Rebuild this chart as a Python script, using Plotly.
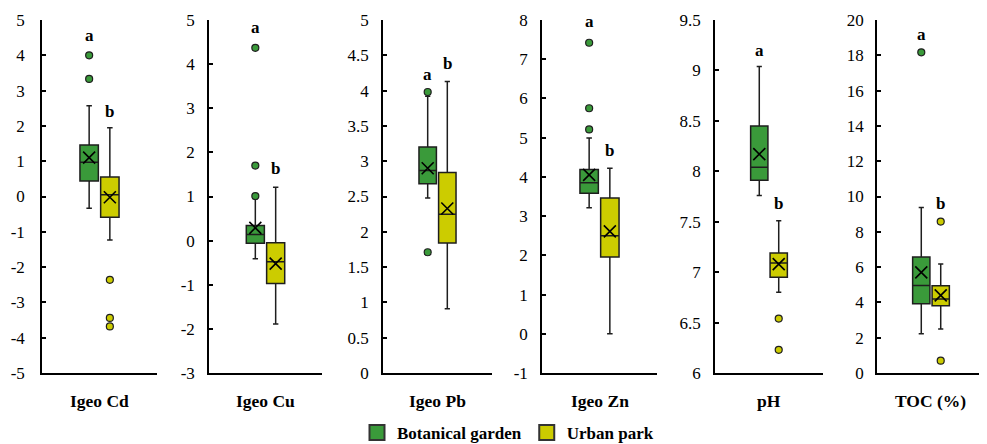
import plotly.graph_objects as go

# ---------------- data ----------------
panels = ["Igeo Cd", "Igeo Cu", "Igeo Pb", "Igeo Zn", "pH", "TOC (%)"]
groups = ["Botanical garden", "Urban park"]

bg_lower = [-0.33, -0.41, 2.48, 3.21, 7.76, 2.23]
bg_q1 = [0.44, -0.06, 2.68, 3.58, 7.91, 3.92]
bg_median = [0.97, 0.14, 2.87, 3.85, 8.04, 4.96]
bg_q3 = [1.46, 0.34, 3.20, 4.19, 8.45, 6.57]
bg_upper = [2.57, 0.95, 3.92, 4.99, 9.04, 9.38]
bg_mean = [1.10, 0.29, 2.90, 4.05, 8.17, 5.70]
bg_outliers = [[4.0, 3.33], [4.37, 1.70, 1.01], [3.98, 1.71], [7.42, 5.75, 5.21], [], [18.17]]

up_lower = [-1.23, -1.89, 0.91, 0.0, 6.80, 2.49]
up_q1 = [-0.59, -0.97, 1.84, 1.96, 6.95, 3.81]
up_median = [0.05, -0.48, 2.25, 2.50, 7.09, 4.19]
up_q3 = [0.55, -0.05, 2.84, 3.46, 7.19, 4.94]
up_upper = [1.95, 1.21, 4.13, 4.22, 7.51, 6.17]
up_mean = [-0.02, -0.52, 2.33, 2.61, 7.08, 4.40]
up_outliers = [[-2.36, -3.44, -3.68], [], [], [], [6.54, 6.23], [8.58, 0.70]]

bg_letters = ["a", "a", "a", "a", "a", "a"]
up_letters = ["b", "b", "b", "b", "b", "b"]
bg_letter_y = [4.55, 4.83, 4.23, 7.95, 9.2, 19.2]
up_letter_y = [2.42, 1.63, 4.38, 4.67, 7.68, 9.6]

y_tickvals = [
    [-5, -4, -3, -2, -1, 0, 1, 2, 3, 4, 5],
    [-3, -2, -1, 0, 1, 2, 3, 4, 5],
    [0, 0.5, 1, 1.5, 2, 2.5, 3, 3.5, 4, 4.5, 5],
    [-1, 0, 1, 2, 3, 4, 5, 6, 7, 8],
    [6, 6.5, 7, 7.5, 8, 8.5, 9, 9.5],
    [0, 2, 4, 6, 8, 10, 12, 14, 16, 18, 20],
]
y_ticktext = [
    ["-5", "-4", "-3", "-2", "-1", "0", "1", "2", "3", "4", "5"],
    ["-3", "-2", "-1", "0", "1", "2", "3", "4", "5"],
    ["0", "0.5", "1", "1.5", "2", "2.5", "3", "3.5", "4", "4.5", "5"],
    ["-1", "0", "1", "2", "3", "4", "5", "6", "7", "8"],
    ["6", "6.5", "7", "7.5", "8", "8.5", "9", "9.5"],
    ["0", "2", "4", "6", "8", "10", "12", "14", "16", "18", "20"],
]

# ---------------- style ----------------
OFF = 8                      # page body margin in the browser
W, H = 987 - OFF, 444 - OFF  # figure size so that it fills the window
GREEN = "#3a9a3a"
YELLOW = "#cccc00"
EDGE = "#1e1e1e"
FONT = "Liberation Serif"
pos = [0.41, 0.59]
box_w = 0.16
# positions measured in window pixels
dom_px = [(42, 157), (209, 322), (383, 492), (542, 657), (715, 823), (877, 985)]
standoffs = [12, 9, 9, 9, 9, 8]
y_top_px, y_bot_px = 20, 373
xlabel_px, legend_px = 401, 433


def px_x(p):
    return (p - OFF) / W


def px_y(p):
    return (H - (p - OFF)) / H


fig = go.Figure()
layout = dict(
    template="none",
    width=W, height=H,
    margin=dict(l=0, r=0, t=0, b=0, pad=0, autoexpand=False),
    paper_bgcolor="white", plot_bgcolor="white",
    boxmode="overlay",
    showlegend=True,
    font=dict(family=FONT, size=17, color="black"),
    legend=dict(orientation="h", x=px_x(508), xanchor="center", y=px_y(legend_px), yanchor="middle",
                font=dict(family=FONT, size=17, color="black"),
                itemwidth=30, tracegroupgap=0, bgcolor="rgba(0,0,0,0)", borderwidth=0),
)
annotations = []

groups_data = [
    (bg_lower, bg_q1, bg_median, bg_q3, bg_upper, bg_mean, bg_outliers, bg_letters, bg_letter_y, GREEN),
    (up_lower, up_q1, up_median, up_q3, up_upper, up_mean, up_outliers, up_letters, up_letter_y, YELLOW),
]

for i, name in enumerate(panels):
    ax = "" if i == 0 else str(i + 1)
    xref, yref = "x" + ax, "y" + ax
    for g, (lo, q1, med, q3, hi, mean, outl, letters, ly, col) in enumerate(groups_data):
        fig.add_trace(go.Box(
            x=[pos[g]], q1=[q1[i]], median=[med[i]], q3=[q3[i]],
            lowerfence=[lo[i]], upperfence=[hi[i]],
            width=box_w, fillcolor=col, line=dict(color=EDGE, width=1.5),
            whiskerwidth=0.3, boxpoints=False, showlegend=False, hoverinfo="skip",
            xaxis=xref, yaxis=yref,
        ))
        fig.add_trace(go.Scatter(
            x=[pos[g]], y=[mean[i]], mode="markers",
            marker=dict(symbol="x-thin", size=12, line=dict(color="black", width=1.6)),
            showlegend=False, hoverinfo="skip", xaxis=xref, yaxis=yref,
        ))
        if outl[i]:
            fig.add_trace(go.Scatter(
                x=[pos[g]] * len(outl[i]), y=outl[i], mode="markers",
                marker=dict(symbol="circle", size=7, color=col, line=dict(color=EDGE, width=1.2)),
                showlegend=False, hoverinfo="skip", xaxis=xref, yaxis=yref,
            ))
        annotations.append(dict(
            x=pos[g], y=ly[i], xref=xref, yref=yref, text="<b>%s</b>" % letters[i],
            showarrow=False, xanchor="center", yanchor="middle",
            font=dict(family=FONT, size=17, color="black"),
        ))
    x0, x1 = dom_px[i]
    dom = [px_x(x0), min(px_x(x1), 1.0)]
    yv = y_tickvals[i]
    layout["xaxis" + ax] = dict(
        domain=dom, range=[0, 1], showline=True, linecolor="black", linewidth=1.5,
        showticklabels=False, ticks="", showgrid=False, zeroline=False,
        anchor=yref, fixedrange=True, automargin=False,
    )
    layout["yaxis" + ax] = dict(
        domain=[px_y(y_bot_px), px_y(y_top_px)], range=[yv[0], yv[-1]],
        tickvals=yv, ticktext=y_ticktext[i], ticks="inside", ticklen=4, tickwidth=1.5,
        tickcolor="black", showline=True, linecolor="black", linewidth=1.5,
        showgrid=False, zeroline=False, anchor=xref, ticklabelstandoff=standoffs[i],
        tickfont=dict(family=FONT, size=17, color="black"), fixedrange=True,
        automargin=False,
    )
    annotations.append(dict(
        x=(dom[0] + dom[1]) / 2, y=px_y(xlabel_px), xref="paper", yref="paper",
        text="<b>%s</b>" % name, showarrow=False, xanchor="center", yanchor="middle",
        font=dict(family=FONT, size=17.5, color="black"),
    ))

# legend entries
for gname, col in zip(groups, [GREEN, YELLOW]):
    fig.add_trace(go.Scatter(
        x=[None], y=[None], mode="markers", name="<b>%s</b>" % gname,
        marker=dict(symbol="square", size=15, color=col, line=dict(color="#333333", width=2)),
        xaxis="x", yaxis="y",
    ))

layout["annotations"] = annotations
fig.update_layout(**layout)
fig.write_html("out.html")
